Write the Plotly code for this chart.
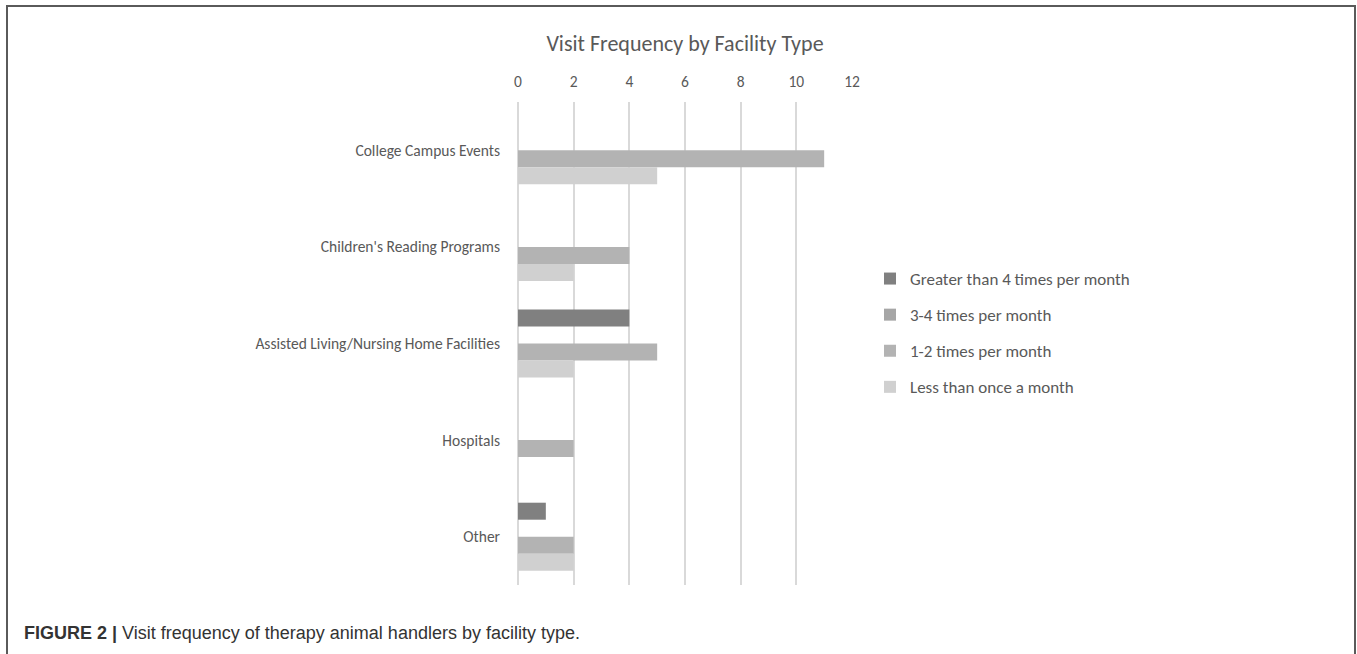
import plotly.graph_objects as go

categories = ["College Campus Events", "Children's Reading Programs",
              "Assisted Living/Nursing Home Facilities", "Hospitals", "Other"]
series_names = ["Greater than 4 times per month", "3-4 times per month",
                "1-2 times per month", "Less than once a month"]
greater_than_4 = [0, 0, 4, 0, 1]
three_to_four = [0, 0, 0, 0, 0]
one_to_two = [11, 4, 5, 2, 2]
less_than_once = [5, 2, 2, 0, 2]
x_ticks = [0, 2, 4, 6, 8, 10, 12]

series_values = [greater_than_4, three_to_four, one_to_two, less_than_once]
colors = ["#808080", "#a6a6a6", "#b3b3b3", "#d0d0d0"]

W, H = 1357, 654
# plot area in page coordinates
L, R, T, B = 518, 852, 102, 585


def px(x):
    return (x - L) / (R - L)


def py(y):
    return (B - y) / (B - T)


font_main = "Carlito, Calibri, Lato, sans-serif"

fig = go.Figure()
for i, (name, vals, col) in enumerate(zip(series_names, series_values, colors)):
    fig.add_trace(go.Bar(
        y=categories, x=vals, name=name, orientation="h",
        marker=dict(color=col, line=dict(width=0)),
        legendgroup=f"g{i}",
    ))

fig.update_layout(
    width=W, height=H,
    margin=dict(l=L, r=W - R, t=T, b=H - B, autoexpand=False),
    paper_bgcolor="white", plot_bgcolor="white",
    barmode="group", bargap=0.296, bargroupgap=0,
    font=dict(family=font_main, color="#595959", size=15),
    title=dict(text="Visit Frequency by Facility Type", x=0.5, xref="paper",
               y=1 - 43 / H, yref="container", yanchor="middle", xanchor="center",
               font=dict(size=22, color="#595959", family=font_main)),
    xaxis=dict(side="top", range=[0, 12], tickvals=x_ticks, showgrid=True,
               gridcolor="#d9d9d9", gridwidth=2, zeroline=True, zerolinecolor="#d9d9d9",
               zerolinewidth=2, showline=False, ticks="", ticklabelstandoff=11,
               tickfont=dict(size=15.5, color="#595959"), fixedrange=True),
    yaxis=dict(autorange="reversed", showgrid=False, zeroline=False, showline=False,
               ticks="", ticklabelstandoff=17,
               tickfont=dict(size=15.5, color="#595959"), fixedrange=True),
    legend=dict(x=px(870), xanchor="left", y=py(261), yanchor="top",
                tracegroupgap=11, itemwidth=30,
                font=dict(size=17, color="#595959", family=font_main),
                bgcolor="rgba(0,0,0,0)"),
    showlegend=True,
)

fig.add_shape(type="rect", xref="paper", yref="paper",
              x0=px(7), x1=px(1355), y0=py(6), y1=py(662),
              line=dict(color="#5a5a5a", width=2), fillcolor="rgba(0,0,0,0)", layer="above")

fig.add_annotation(xref="paper", yref="paper", x=px(22), y=py(633),
                   xanchor="left", yanchor="middle", showarrow=False,
                   text="<b>FIGURE 2 |</b> Visit frequency of therapy animal handlers by facility type.",
                   font=dict(family="Liberation Sans, Arial, sans-serif", size=18, color="#333333"))

fig.write_html("out.html", config={"displayModeBar": False},
               post_script="document.body.style.margin='0px';")
